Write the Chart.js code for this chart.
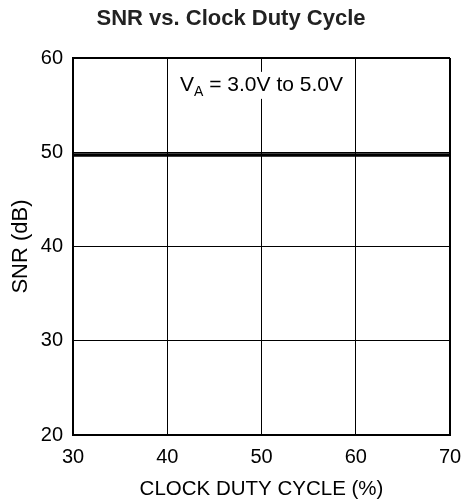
<!DOCTYPE html>
<html>
<head>
<meta charset="utf-8">
<script src="https://cdn.jsdelivr.net/npm/chart.js@4"></script>
<style>
  html, body { margin: 0; padding: 0; background: #fff; }
  #wrap { width: 462px; height: 502px; }
</style>
</head>
<body>
<div id="wrap"><canvas id="chart" width="462" height="502"></canvas></div>
<script>
// duty cycle range (%) and the SNR curve
const dutyCycle = [30, 70];
const snr = [49.7, 49.7];
const xTicks = [30, 40, 50, 60, 70];
const yTicks = [20, 30, 40, 50, 60];

const font = 'Liberation Sans, Arial, Helvetica, sans-serif';

// text label with white box, sits at x=50, near the top of the plot
const noteLabel = {
  id: 'noteLabel',
  afterDatasetsDraw(chart) {
    const { ctx, scales } = chart;
    const cx = scales.x.getPixelForValue(50);
    const cy = scales.y.getPixelForValue(57.15);
    const a = 'V';
    const sub = 'A';
    const rest = ' = 3.0V to 5.0V';
    ctx.save();
    ctx.font = '21px ' + font;
    const wa = ctx.measureText(a).width;
    const wr = ctx.measureText(rest).width;
    ctx.font = '14px ' + font;
    const ws = ctx.measureText(sub).width;
    const total = wa + ws + wr;
    const x0 = cx - total / 2;
    ctx.fillStyle = '#fff';
    ctx.fillRect(x0 - 4, cy - 13, total + 8, 27);
    ctx.fillStyle = '#000';
    ctx.textBaseline = 'middle';
    ctx.font = '21px ' + font;
    ctx.fillText(a, x0, cy);
    ctx.font = '14px ' + font;
    ctx.fillText(sub, x0 + wa, cy + 7);
    ctx.font = '21px ' + font;
    ctx.fillText(rest, x0 + wa + ws, cy);
    ctx.restore();
  }
};

new Chart(document.getElementById('chart'), {
  type: 'line',
  data: {
    datasets: [{
      data: dutyCycle.map((x, i) => ({ x: x, y: snr[i] })),
      borderColor: '#000',
      borderWidth: 3.5,
      pointRadius: 0
    }]
  },
  options: {
    responsive: false,
    animation: false,
    layout: { padding: 0 },
    plugins: {
      legend: { display: false },
      tooltip: { enabled: false },
      title: {
        display: true,
        text: 'SNR vs. Clock Duty Cycle',
        color: '#222',
        font: { family: font, size: 22, weight: 'bold', lineHeight: 1.2 },
        padding: { top: 6, bottom: 25.6 }
      }
    },
    scales: {
      x: {
        type: 'linear',
        min: 30,
        max: 70,
        afterBuildTicks(axis) { axis.ticks = xTicks.map(v => ({ value: v })); },
        afterFit(axis) {
          axis.height = 67;
          axis.paddingRight = 12;
          axis.paddingLeft = 0;
        },
        grid: {
          color: '#000',
          lineWidth: c => (c.tick && c.tick.value === 70 ? 2 : 1),
          drawTicks: false
        },
        border: { color: '#000', width: 2 },
        ticks: { color: '#000', padding: 10, font: { family: font, size: 20 } },
        title: {
          display: true,
          text: 'CLOCK DUTY CYCLE (%)',
          color: '#000',
          font: { family: font, size: 20.5 },
          padding: { top: 0, bottom: 0 }
        }
      },
      y: {
        min: 20,
        max: 60,
        afterBuildTicks(axis) { axis.ticks = yTicks.map(v => ({ value: v })); },
        afterFit(axis) { axis.width = 73; },
        grid: {
          color: '#000',
          lineWidth: c => (c.tick && c.tick.value === 60 ? 2 : 1),
          drawTicks: false
        },
        border: { color: '#000', width: 2 },
        ticks: { color: '#000', padding: 10, font: { family: font, size: 20 } },
        title: {
          display: true,
          text: 'SNR (dB)',
          color: '#000',
          font: { family: font, size: 22 },
          padding: { top: 8, bottom: 0 }
        }
      }
    }
  },
  plugins: [noteLabel]
});
</script>
</body>
</html>
